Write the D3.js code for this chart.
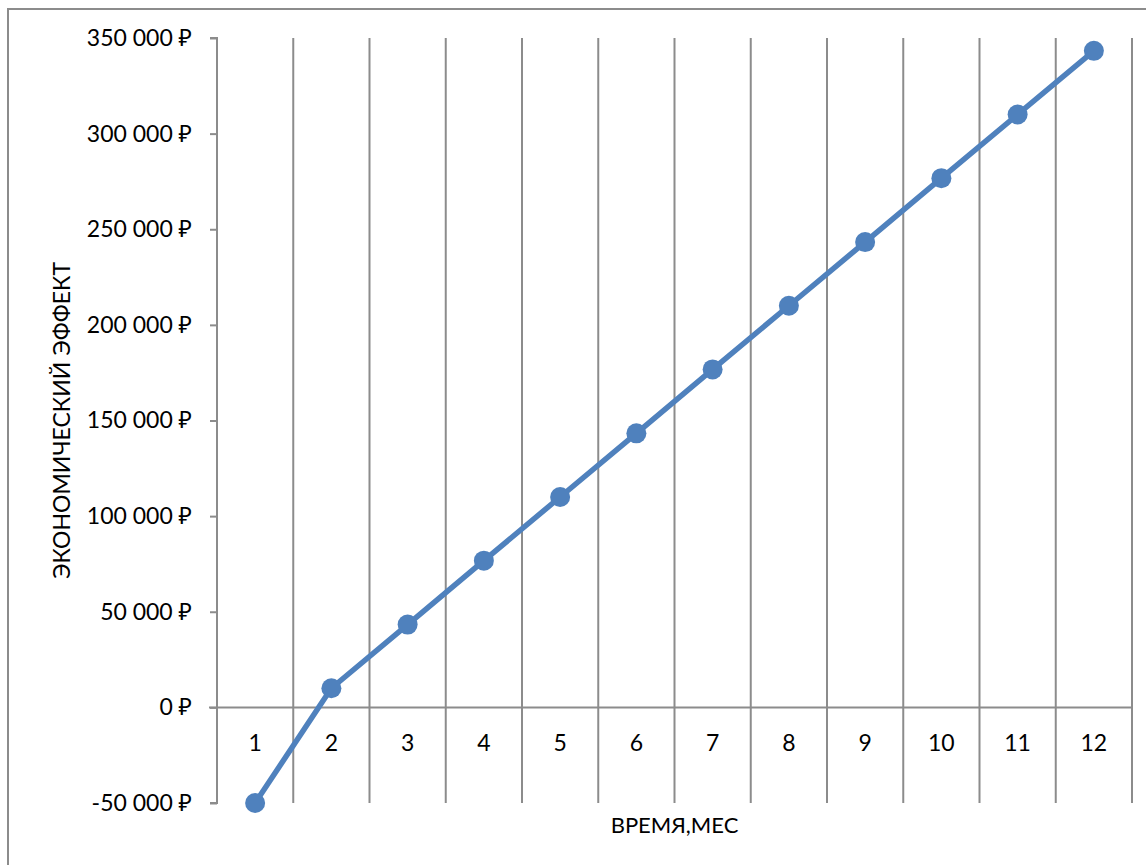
<!DOCTYPE html>
<html>
<head>
<meta charset="utf-8">
<script src="https://cdn.jsdelivr.net/npm/d3@7"></script>
<style>
  html, body { margin: 0; padding: 0; background: #fff; }
  svg { display: block; }
  text { font-family: Lato, "Open Sans", "Noto Sans", sans-serif; fill: #000; }
</style>
</head>
<body>
<svg id="chart" width="1146" height="865"></svg>
<script>
const categories = ["1","2","3","4","5","6","7","8","9","10","11","12"];
const values = [-50000, 10000, 43300, 76700, 110000, 143300, 176700, 210000, 243300, 276700, 310000, 343300];
const yTicks = [-50000, 0, 50000, 100000, 150000, 200000, 250000, 300000, 350000];
const yTitle = "ЭКОНОМИЧЕСКИЙ ЭФФЕКТ";
const xTitle = "ВРЕМЯ,МЕС";
const currency = "₽";

const svg = d3.select("#chart");
const gridColor = "#8c8c8c";
const lineColor = "#4f81bd";

// outer frame
svg.append("rect")
  .attr("x", 8).attr("y", 9).attr("width", 1200).attr("height", 900)
  .attr("fill", "none").attr("stroke", gridColor).attr("stroke-width", 2);

const x = d3.scaleBand().domain(categories).range([217, 1132]).padding(0);
const y = d3.scaleLinear().domain([-50000, 350000]).range([803, 38]);

// vertical gridlines at category boundaries
const bounds = categories.map(c => x(c) + x.bandwidth());
svg.append("g").selectAll("line").data(bounds).join("line")
  .attr("x1", d => d).attr("x2", d => d)
  .attr("y1", y(350000)).attr("y2", y(-50000))
  .attr("stroke", gridColor).attr("stroke-width", 2);

// y axis
const fmt = v => d3.format(",")(v).replace(/,/g, " ").replace("\u2212", "-") + " " + currency;
const yAxis = svg.append("g").attr("transform", "translate(217,0)")
  .call(d3.axisLeft(y).tickValues(yTicks).tickSize(7).tickPadding(18).tickFormat(fmt));
yAxis.select(".domain").attr("stroke", gridColor).attr("stroke-width", 2).attr("d", `M-7,${y(350000)}H0V${y(-50000)}H-7`);
yAxis.selectAll(".tick line").attr("stroke", gridColor).attr("stroke-width", 2);
yAxis.selectAll(".tick text").style("font-size", "23px").attr("fill", "#000");

// x axis at zero
svg.append("line")
  .attr("x1", 209).attr("x2", 1132).attr("y1", y(0)).attr("y2", y(0))
  .attr("stroke", gridColor).attr("stroke-width", 2);
svg.append("g").selectAll("text").data(categories).join("text")
  .attr("x", d => x(d) + x.bandwidth() / 2).attr("y", 751)
  .attr("text-anchor", "middle").style("font-size", "23px")
  .text(d => d);

// line
const line = d3.line().x((d, i) => x(categories[i]) + x.bandwidth() / 2).y(d => y(d));
svg.append("path").datum(values)
  .attr("d", line).attr("fill", "none")
  .attr("stroke", lineColor).attr("stroke-width", 5.5).attr("stroke-linejoin", "round");
svg.append("g").selectAll("circle").data(values).join("circle")
  .attr("cx", (d, i) => x(categories[i]) + x.bandwidth() / 2)
  .attr("cy", d => y(d)).attr("r", 10).attr("fill", lineColor);

// titles
svg.append("text")
  .attr("transform", `translate(70,${(y(350000) + y(-50000)) / 2}) rotate(-90)`)
  .attr("text-anchor", "middle").style("font-size", "23px")
  .text(yTitle);
svg.append("text")
  .attr("x", (217 + 1132) / 2).attr("y", 833)
  .attr("text-anchor", "middle").style("font-size", "22px")
  .text(xTitle);
</script>
</body>
</html>
